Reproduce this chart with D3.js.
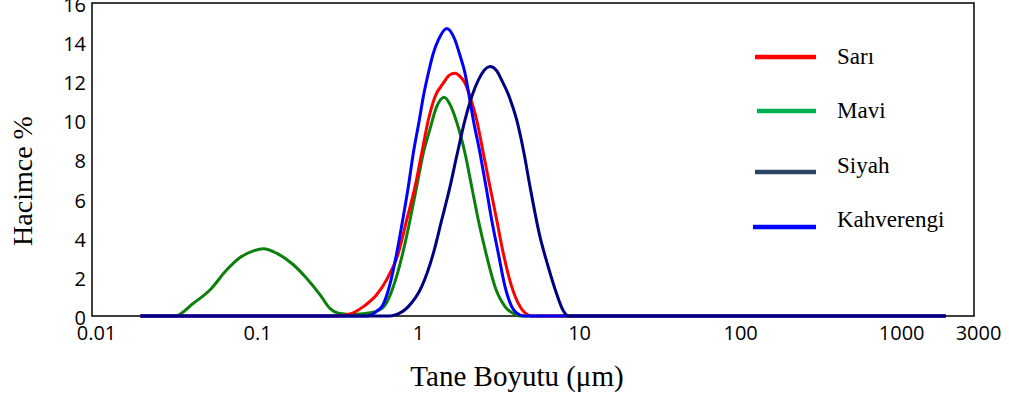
<!DOCTYPE html>
<html>
<head>
<meta charset="utf-8">
<script src="https://cdn.jsdelivr.net/npm/d3@7"></script>
<style>
  html, body { margin: 0; padding: 0; background: #fff; }
  svg { display: block; }
</style>
</head>
<body>
<svg id="chart" width="1009" height="400"></svg>
<script>
// ---- data ----
const seriesNames = ["Sarı", "Mavi", "Siyah", "Kahverengi"];
const xTickValues = [0.01, 0.1, 1, 10, 100, 1000, 3000];
const xTickLabels = ["0.01", "0.1", "1", "10", "100", "1000", "3000"];
const yTickValues = [0, 2, 4, 6, 8, 10, 12, 14, 16];

// [particle size µm, volume %]
const sariData = [
  [0.02, 0], [0.33, 0], [0.40, 0.1], [0.484, 0.48], [0.587, 1.1], [0.68, 1.9],
  [0.798, 3.2], [0.90, 4.91], [1.014, 6.61], [1.115, 8.32], [1.226, 10.02],
  [1.349, 11.21], [1.519, 11.9], [1.65, 12.3], [1.796, 12.41], [1.93, 12.25], [2.072, 11.9],
  [2.225, 11.21], [2.449, 10.02], [2.692, 8.32], [2.962, 6.61], [3.26, 4.91], [3.583, 3.2],
  [4.04, 1.5], [4.549, 0.48], [5.122, 0.05], [5.5, 0], [2000, 0]
];
const maviData = [
  [0.02, 0], [0.0328, 0], [0.0426, 0.65], [0.054, 1.33], [0.0687, 2.36], [0.083, 2.99],
  [0.1005, 3.33], [0.116, 3.44], [0.140, 3.21], [0.178, 2.62], [0.215, 1.93], [0.261, 1.08],
  [0.30, 0.39], [0.339, 0.14], [0.40, 0.08], [0.48, 0.12], [0.587, 0.25], [0.66, 0.55],
  [0.743, 1.5], [0.85, 3.2], [0.944, 4.91], [1.038, 6.61], [1.141, 8.32], [1.25, 9.5],
  [1.382, 10.7], [1.541, 11.18], [1.696, 10.7], [1.822, 10.02], [2.072, 8.32], [2.28, 6.61],
  [2.506, 4.91], [2.798, 3.2], [3.181, 1.5], [3.671, 0.48], [4.339, 0.05], [4.5, 0], [2000, 0]
];
const siyahData = [
  [0.02, 0], [0.70, 0], [0.762, 0.05], [0.921, 0.48], [1.115, 1.5], [1.317, 3.2],
  [1.485, 4.91], [1.672, 6.61], [1.856, 8.32], [2.072, 10.02], [2.28, 11.21], [2.506, 12.06],
  [2.962, 12.75], [3.25, 12.55], [3.5, 12.06], [3.9, 11.21], [4.339, 10.02], [4.816, 8.32],
  [5.25, 6.61], [5.98, 4.24], [6.8, 2.53], [7.66, 1.16], [8.4, 0.31], [9.1, 0], [2000, 0]
];
const kahverengiData = [
  [0.02, 0], [0.51, 0], [0.587, 0.25], [0.639, 0.55], [0.702, 1.5], [0.78, 3.2],
  [0.85, 4.91], [0.921, 6.61], [0.989, 8.32], [1.078, 10.02], [1.141, 11.21], [1.226, 12.41],
  [1.317, 13.43], [1.415, 14.11], [1.595, 14.7], [1.796, 14.11], [1.91, 13.43], [2.072, 12.41],
  [2.203, 11.21], [2.333, 10.02], [2.568, 8.32], [2.798, 6.61], [3.035, 4.91], [3.335, 3.2],
  [3.671, 1.5], [4.04, 0.48], [4.549, 0.05], [4.8, 0], [2000, 0]
];

// ---- styling ----
const lineColors = { "Sarı": "#ff0000", "Mavi": "#0c800c", "Siyah": "#000080", "Kahverengi": "#0000ff" };
const legendColors = { "Sarı": "#ff0000", "Mavi": "#00b050", "Siyah": "#2b4464", "Kahverengi": "#0000ff" };
const dataByName = { "Sarı": sariData, "Mavi": maviData, "Siyah": siyahData, "Kahverengi": kahverengiData };
const drawOrder = ["Mavi", "Sarı", "Kahverengi", "Siyah"];

const svg = d3.select("#chart");
const plotLeft = 92, plotRight = 974, plotTop = 3, plotBottom = 316;

const x = d3.scaleLog().domain([0.01, 3000]).range([plotLeft, plotRight]);
const y = d3.scaleLinear().domain([0, 16]).range([plotBottom, plotTop]);

// frame
svg.append("rect")
  .attr("x", plotLeft).attr("y", plotTop)
  .attr("width", plotRight - plotLeft).attr("height", plotBottom - plotTop)
  .attr("fill", "none").attr("stroke", "#000").attr("stroke-width", 1.5);

// x axis
const xAxis = d3.axisBottom(x)
  .tickValues(xTickValues)
  .tickFormat((d, i) => xTickLabels[i])
  .tickSize(0).tickPadding(0);
const gx = svg.append("g").attr("transform", `translate(0,${plotBottom})`).call(xAxis);
gx.select(".domain").remove();
gx.selectAll("text")
  .attr("font-family", "'Open Sans', sans-serif")
  .attr("font-size", 20)
  .attr("fill", "#000")
  .attr("dx", 4)
  .attr("dy", null)
  .attr("y", 24);

// y axis
const yAxis = d3.axisLeft(y).tickValues(yTickValues).tickSize(0).tickPadding(6);
const gy = svg.append("g").attr("transform", `translate(${plotLeft},0)`).call(yAxis);
gy.select(".domain").remove();
gy.selectAll("text")
  .attr("font-family", "'Open Sans', sans-serif")
  .attr("font-size", 20)
  .attr("fill", "#000")
  .attr("dy", "0.42em");

// lines
const line = d3.line()
  .x(d => x(d[0]))
  .y(d => y(d[1]))
  .curve(d3.curveMonotoneX);

drawOrder.forEach(name => {
  svg.append("path")
    .datum(dataByName[name])
    .attr("d", line)
    .attr("fill", "none")
    .attr("stroke", lineColors[name])
    .attr("stroke-width", 3)
    .attr("stroke-linejoin", "round");
});

// axis titles
svg.append("text")
  .attr("x", 517).attr("y", 386)
  .attr("text-anchor", "middle")
  .attr("font-family", "'Liberation Serif', 'Times New Roman', serif")
  .attr("font-size", 29)
  .attr("fill", "#000")
  .text("Tane Boyutu (μm)");

svg.append("text")
  .attr("transform", "translate(32,181) rotate(-90)")
  .attr("text-anchor", "middle")
  .attr("font-family", "'Liberation Serif', 'Times New Roman', serif")
  .attr("font-size", 28)
  .attr("fill", "#000")
  .text("Hacimce %");

// legend
const legendLayout = [
  { lineY: 57, textY: 64, x0: 755 },
  { lineY: 111, textY: 118, x0: 757 },
  { lineY: 172, textY: 173, x0: 755 },
  { lineY: 227, textY: 227, x0: 753 }
];
const lg = svg.append("g");
seriesNames.forEach((name, i) => {
  const L = legendLayout[i];
  lg.append("line")
    .attr("x1", L.x0).attr("x2", 816)
    .attr("y1", L.lineY).attr("y2", L.lineY)
    .attr("stroke", legendColors[name])
    .attr("stroke-width", 4.5);
  lg.append("text")
    .attr("x", 837).attr("y", L.textY)
    .attr("font-family", "'Liberation Serif', 'Times New Roman', serif")
    .attr("font-size", 23)
    .attr("fill", "#000")
    .text(name);
});
</script>
</body>
</html>
